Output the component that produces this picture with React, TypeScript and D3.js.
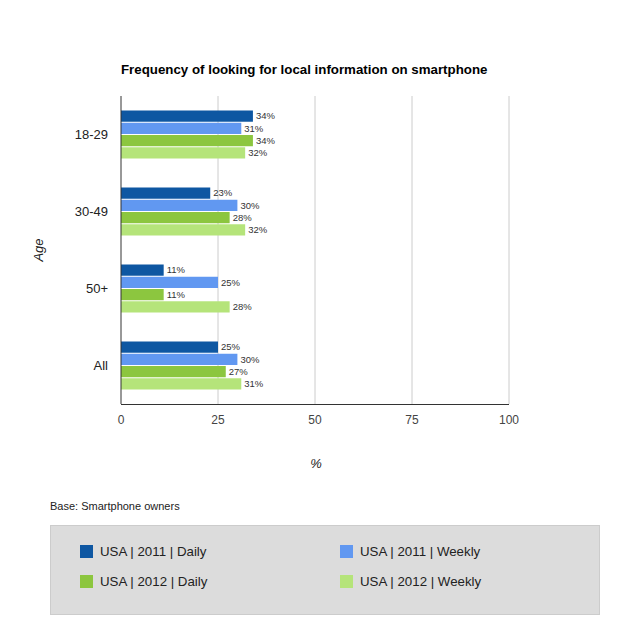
import * as d3 from 'd3';

const categories = ['18-29', '30-49', '50+', 'All'];
const seriesNames = ['USA | 2011 | Daily', 'USA | 2011 | Weekly', 'USA | 2012 | Daily', 'USA | 2012 | Weekly'];
const daily2011 = [34, 23, 11, 25];
const weekly2011 = [31, 30, 25, 30];
const daily2012 = [34, 28, 11, 27];
const weekly2012 = [32, 32, 28, 31];
const xTicks = [0, 25, 50, 75, 100];
const colors = ['#0e57a2', '#6198f1', '#8cc63f', '#b5e47a'];

const series = [daily2011, weekly2011, daily2012, weekly2012];
const font = '"Liberation Sans", Arial, sans-serif';

export default function App() {
  const width = 630;
  const height = 635;
  const left = 121;
  const right = 509;
  const top = 96;
  const bottom = 404;

  const x = d3.scaleLinear().domain([0, 100]).range([left, right]);
  const y = d3.scaleBand<string>().domain(categories).range([top, bottom]);
  const inner = d3
    .scaleBand<number>()
    .domain(d3.range(series.length))
    .range([0, 48])
    .paddingInner(1 / 12);
  const groupOffset = (y.bandwidth() - 48) / 2;

  return (
    <svg width={width} height={height} style={{ position: 'absolute', left: 0, top: 0 }} fontFamily={font}>
      <rect width={width} height={height} fill="#fff" />
      <text x={121} y={73.5} fontSize={13.3} fontWeight="bold" fill="#000">
        Frequency of looking for local information on smartphone
      </text>

      {xTicks.slice(1).map((t) => (
        <line key={t} x1={x(t)} x2={x(t)} y1={top} y2={bottom} stroke="#cccccc" />
      ))}

      {categories.map((c, ci) =>
        series.map((s, si) => {
          const by = (y(c) as number) + groupOffset + (inner(si) as number);
          return (
            <g key={c + si}>
              <rect x={x(0)} y={by} width={x(s[ci]) - x(0)} height={inner.bandwidth()} fill={colors[si]} />
              <text
                x={x(s[ci]) + 3}
                y={by + inner.bandwidth() / 2}
                dy="0.35em"
                fontSize={9.5}
                fill="#333"
              >
                {s[ci]}%
              </text>
            </g>
          );
        })
      )}

      <line x1={left} x2={left} y1={top} y2={bottom} stroke="#333" />
      <line x1={left} x2={right} y1={bottom + 0.5} y2={bottom + 0.5} stroke="#333" />

      {categories.map((c) => (
        <text
          key={c}
          x={108}
          y={(y(c) as number) + y.bandwidth() / 2}
          dy="0.35em"
          textAnchor="end"
          fontSize={13}
          fill="#222"
        >
          {c}
        </text>
      ))}

      {xTicks.map((t) => (
        <text key={t} x={x(t)} y={424} textAnchor="middle" fontSize={12} fill="#444">
          {t}
        </text>
      ))}

      <text x={316} y={468} textAnchor="middle" fontSize={13} fontStyle="italic" fill="#222">
        %
      </text>
      <text
        transform="translate(43,250) rotate(-90)"
        textAnchor="middle"
        fontSize={13}
        fontStyle="italic"
        fill="#222"
      >
        Age
      </text>

      <text x={50} y={510} fontSize={11} fill="#222">
        Base: Smartphone owners
      </text>

      <rect x={50.5} y={525.5} width={549} height={89} fill="#dcdcdc" stroke="#cccccc" />
      {seriesNames.map((name, i) => {
        const lx = i % 2 === 0 ? 80 : 340;
        const ly = i < 2 ? 551 : 581;
        return (
          <g key={name}>
            <rect x={lx} y={ly - 6} width={13} height={13} fill={colors[i]} />
            <text x={lx + 20} y={ly} dy="0.35em" fontSize={13.3} fill="#222">
              {name}
            </text>
          </g>
        );
      })}
    </svg>
  );
}
